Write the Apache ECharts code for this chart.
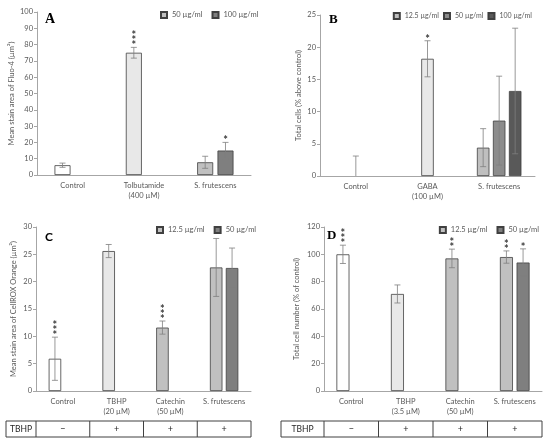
<!DOCTYPE html>
<html lang="en">
<head>
<meta charset="UTF-8">
<title>Fluo-4 / GABA / CellROX / cell number</title>
<style>
  html, body { margin: 0; padding: 0; background: #fff; }
  #chart { width: 550px; height: 445px; }
</style>
</head>
<body>
<div id="chart"></div>
<script src="https://cdn.jsdelivr.net/npm/echarts@6/dist/echarts.min.js"></script>
<script>
// ---- data ----
var catsA = ['Control', 'Tolbutamide\n(400 µM)', 'S. frutescens'];
var a50 = [6.0, 75.0, 7.8];
var a50Err = [1.3, 3.3, 3.7];
var a50Stars = [0, 3, 0];
var a100 = ['-', '-', 15.0];
var a100Err = [0, 0, 5.0];
var a100Stars = [0, 0, 1];

var catsB = ['Control', 'GABA\n(100 µM)', 'S. frutescens'];
var b12 = ['-', '-', 4.4];
var b12Err = [0, 0, 2.95];
var b50 = [0, 18.2, 8.6];
var b50Err = [3.1, 2.8, 6.9];
var b50Stars = [0, 1, 0];
var b100 = ['-', '-', 13.2];
var b100Err = [0, 0, 9.75];

var catsC = ['Control', 'TBHP\n(20 µM)', 'Catechin\n(50 µM)', 'S. frutescens'];
var c12 = [5.9, 25.6, 11.6, 22.6];
var c12Err = [3.95, 1.2, 1.2, 5.3];
var c12Stars = [3, 0, 3, 0];
var c50 = ['-', '-', '-', 22.5];
var c50Err = [0, 0, 0, 3.65];

var catsD = ['Control', 'TBHP\n(3.5 µM)', 'Catechin\n(50 µM)', 'S. frutescens'];
var d12 = [100, 71, 97, 98];
var d12Err = [6.7, 6.6, 6.8, 4.5];
var d12Stars = [3, 0, 2, 2];
var d50 = ['-', '-', '-', 94];
var d50Err = [0, 0, 0, 10];
var d50Stars = [0, 0, 0, 1];

var tbhpRow = ['−', '+', '+', '+'];

// ---- styles ----
var txt = '#595959';
var axisCol = '#a6a6a6';
var errCol = '#7f7f7f';
var fontFam = 'Lato';
var white = '#ffffff', light = '#e8e8e8', mid = '#c0c0c0', dark = '#7f7f7f';

var chart = echarts.init(document.getElementById('chart'));

var grids = [
    {left: 37, top: 12, width: 214, height: 163},
    {left: 320, top: 15, width: 215, height: 161},
    {left: 36, top: 227, width: 215, height: 164},
    {left: 324, top: 227, width: 218, height: 164}
];

function xAxisFor(i, cats) {
    return {
        type: 'category', gridIndex: i, data: cats,
        axisLine: {lineStyle: {color: axisCol, width: 1}},
        axisTick: {length: 3, lineStyle: {color: axisCol}},
        axisLabel: {interval: 0, fontSize: 7.5, color: txt, fontFamily: fontFam, lineHeight: 10, margin: 6}
    };
}

function yAxisFor(i, max, step, name, gap) {
    return {
        type: 'value', gridIndex: i, min: 0, max: max, interval: step,
        axisLine: {show: true, lineStyle: {color: axisCol, width: 1}},
        axisTick: {show: true, length: 3, lineStyle: {color: axisCol}},
        splitLine: {show: false},
        axisLabel: {fontSize: 7.5, color: txt, fontFamily: fontFam, margin: 4},
        name: name, nameLocation: 'middle', nameGap: gap,
        nameTextStyle: {fontSize: 7.5, color: txt, fontFamily: fontFam}
    };
}

// bar series; colors gives a fill per category, the series colour is the legend one
function barSeries(i, name, values, color, colors, barW, gap) {
    return {
        type: 'bar', name: name, xAxisIndex: i, yAxisIndex: i,
        barWidth: barW, barGap: gap + '%',
        itemStyle: {color: color, borderColor: '#404040', borderWidth: 0.8},
        data: values.map(function (v, k) {
            var st = {color: colors ? colors[k] : color};
            if (v === 0) st.borderWidth = 0;
            return {value: v, itemStyle: st};
        }),
        silent: true, z: 2
    };
}

// error whiskers + significance stars, shifted to the bar's slot in the group
function errSeries(i, values, errs, stars, slot, nSlots, barW, gap) {
    var data = [];
    for (var k = 0; k < values.length; k++) {
        if (values[k] === '-') continue;
        data.push([k, values[k] - errs[k], values[k] + errs[k], stars ? stars[k] : 0]);
    }
    var step = barW * (1 + gap / 100);
    var offset = (slot - (nSlots - 1) / 2) * step;
    return {
        type: 'custom', xAxisIndex: i, yAxisIndex: i, z: 5, silent: true,
        data: data,
        renderItem: function (params, api) {
            var lowV = api.value(1);
            var lo = api.coord([api.value(0), Math.max(lowV, 0)]);
            var hi = api.coord([api.value(0), api.value(2)]);
            var x = lo[0] + offset;
            var ls = {stroke: errCol, lineWidth: 0.8};
            var kids = [
                {type: 'line', shape: {x1: x, y1: lo[1], x2: x, y2: hi[1]}, style: ls},
                {type: 'line', shape: {x1: x - 3, y1: hi[1], x2: x + 3, y2: hi[1]}, style: ls}
            ];
            if (lowV > 0) {
                kids.push({type: 'line', shape: {x1: x - 3, y1: lo[1], x2: x + 3, y2: lo[1]}, style: ls});
            }
            var n = api.value(3);
            for (var s = 0; s < n; s++) {
                kids.push({
                    type: 'text', x: x, y: hi[1] - 1.5 - s * 5.2,
                    style: {text: '*', fill: '#3a3a3a', font: 'bold 11px ' + fontFam,
                        textAlign: 'center', textVerticalAlign: 'middle'}
                });
            }
            return {type: 'group', children: kids};
        }
    };
}

function legendFor(pos, top, names, size, gap) {
    var l = {
        top: top, padding: 0, itemWidth: 6, itemHeight: 6, itemGap: gap,
        icon: 'rect', selectedMode: false, data: names,
        formatter: function (n) { return n.split('|')[1]; },
        textStyle: {fontSize: size, color: txt, fontFamily: fontFam}
    };
    for (var k in pos) l[k] = pos[k];
    return l;
}

var bwA = 16, gA = 27, bwB = 12.5, gB = 28, bwC = 12.5, gC = 27, bwD = 13, gD = 28;

var series = [
    barSeries(0, 'A|50 µg/ml', a50, mid, [white, light, mid], bwA, gA),
    barSeries(0, 'A|100 µg/ml', a100, dark, null, bwA, gA),
    errSeries(0, a50, a50Err, a50Stars, 0, 2, bwA, gA),
    errSeries(0, a100, a100Err, a100Stars, 1, 2, bwA, gA),

    barSeries(1, 'B|12.5 µg/ml', b12, '#bfbfbf', null, bwB, gB),
    barSeries(1, 'B|50 µg/ml', b50, '#8c8c8c', [white, light, '#8c8c8c'], bwB, gB),
    barSeries(1, 'B|100 µg/ml', b100, '#595959', null, bwB, gB),
    errSeries(1, b12, b12Err, null, 0, 3, bwB, gB),
    errSeries(1, b50, b50Err, b50Stars, 1, 3, bwB, gB),
    errSeries(1, b100, b100Err, null, 2, 3, bwB, gB),

    barSeries(2, 'C|12.5 µg/ml', c12, mid, [white, light, mid, mid], bwC, gC),
    barSeries(2, 'C|50 µg/ml', c50, dark, null, bwC, gC),
    errSeries(2, c12, c12Err, c12Stars, 0, 2, bwC, gC),
    errSeries(2, c50, c50Err, null, 1, 2, bwC, gC),

    barSeries(3, 'D|12.5 µg/ml', d12, mid, [white, light, mid, mid], bwD, gD),
    barSeries(3, 'D|50 µg/ml', d50, dark, null, bwD, gD),
    errSeries(3, d12, d12Err, d12Stars, 0, 2, bwD, gD),
    errSeries(3, d50, d50Err, d50Stars, 1, 2, bwD, gD)
];

function letter(t, x, y, size, fam) {
    return {type: 'text', x: x, y: y,
        style: {text: t, font: 'bold ' + size + 'px ' + fam, fill: '#000', textAlign: 'left', textVerticalAlign: 'top'}};
}

var option = {
    animation: false,
    backgroundColor: '#fff',
    grid: grids,
    xAxis: [xAxisFor(0, catsA), xAxisFor(1, catsB), xAxisFor(2, catsC), xAxisFor(3, catsD)],
    yAxis: [
        yAxisFor(0, 100, 10, 'Mean stain area of Fluo-4 (µm²)', 21),
        yAxisFor(1, 25, 5, 'Total cells (% above control)', 17),
        yAxisFor(2, 30, 5, 'Mean stain area of CellROX Orange (µm²)', 18),
        yAxisFor(3, 120, 20, 'Total cell number (% of control)', 23)
    ],
    legend: [
        legendFor({left: 160}, 11, ['A|50 µg/ml', 'A|100 µg/ml'], 7.5, 9),
        legendFor({right: 18}, 12, ['B|12.5 µg/ml', 'B|50 µg/ml', 'B|100 µg/ml'], 7, 4),
        legendFor({left: 156}, 226, ['C|12.5 µg/ml', 'C|50 µg/ml'], 7.5, 9),
        legendFor({right: 11}, 226, ['D|12.5 µg/ml', 'D|50 µg/ml'], 7.5, 9)
    ],
    series: series
};
chart.setOption(option);

// TBHP row under panels C and D, cells follow the category bands of each axis
function tableFor(i, cats, row, left, top, h) {
    var xs = cats.map(function (c, k) { return chart.convertToPixel({xAxisIndex: i}, k); });
    var w = xs[1] - xs[0];
    var first = xs[0] - w / 2;
    var right = xs[xs.length - 1] + w / 2;
    var ls = {stroke: '#404040', lineWidth: 1};
    var els = [
        {type: 'rect', shape: {x: left, y: top, width: right - left, height: h}, style: {fill: 'none', stroke: '#404040', lineWidth: 1}},
        {type: 'line', shape: {x1: first, y1: top, x2: first, y2: top + h}, style: ls},
        {type: 'text', x: (left + first) / 2, y: top + h / 2,
            style: {text: 'TBHP', font: '8.5px ' + fontFam, fill: '#262626', textAlign: 'center', textVerticalAlign: 'middle'}}
    ];
    for (var k = 0; k < xs.length; k++) {
        if (k > 0) {
            els.push({type: 'line', shape: {x1: xs[k] - w / 2, y1: top, x2: xs[k] - w / 2, y2: top + h}, style: ls});
        }
        els.push({type: 'text', x: xs[k], y: top + h / 2,
            style: {text: row[k], font: '9px ' + fontFam, fill: '#262626', textAlign: 'center', textVerticalAlign: 'middle'}});
    }
    return els;
}

chart.setOption({
    graphic: [].concat(
        [letter('A', 45, 12, 14, 'Liberation Serif'),
         letter('B', 329, 13, 13, 'Liberation Serif'),
         letter('C', 45, 231, 12, fontFam),
         letter('D', 327, 229, 13, 'Liberation Serif')],
        tableFor(2, catsC, tbhpRow, 6, 421, 16),
        tableFor(3, catsD, tbhpRow, 281, 421, 16)
    )
});
</script>
</body>
</html>
